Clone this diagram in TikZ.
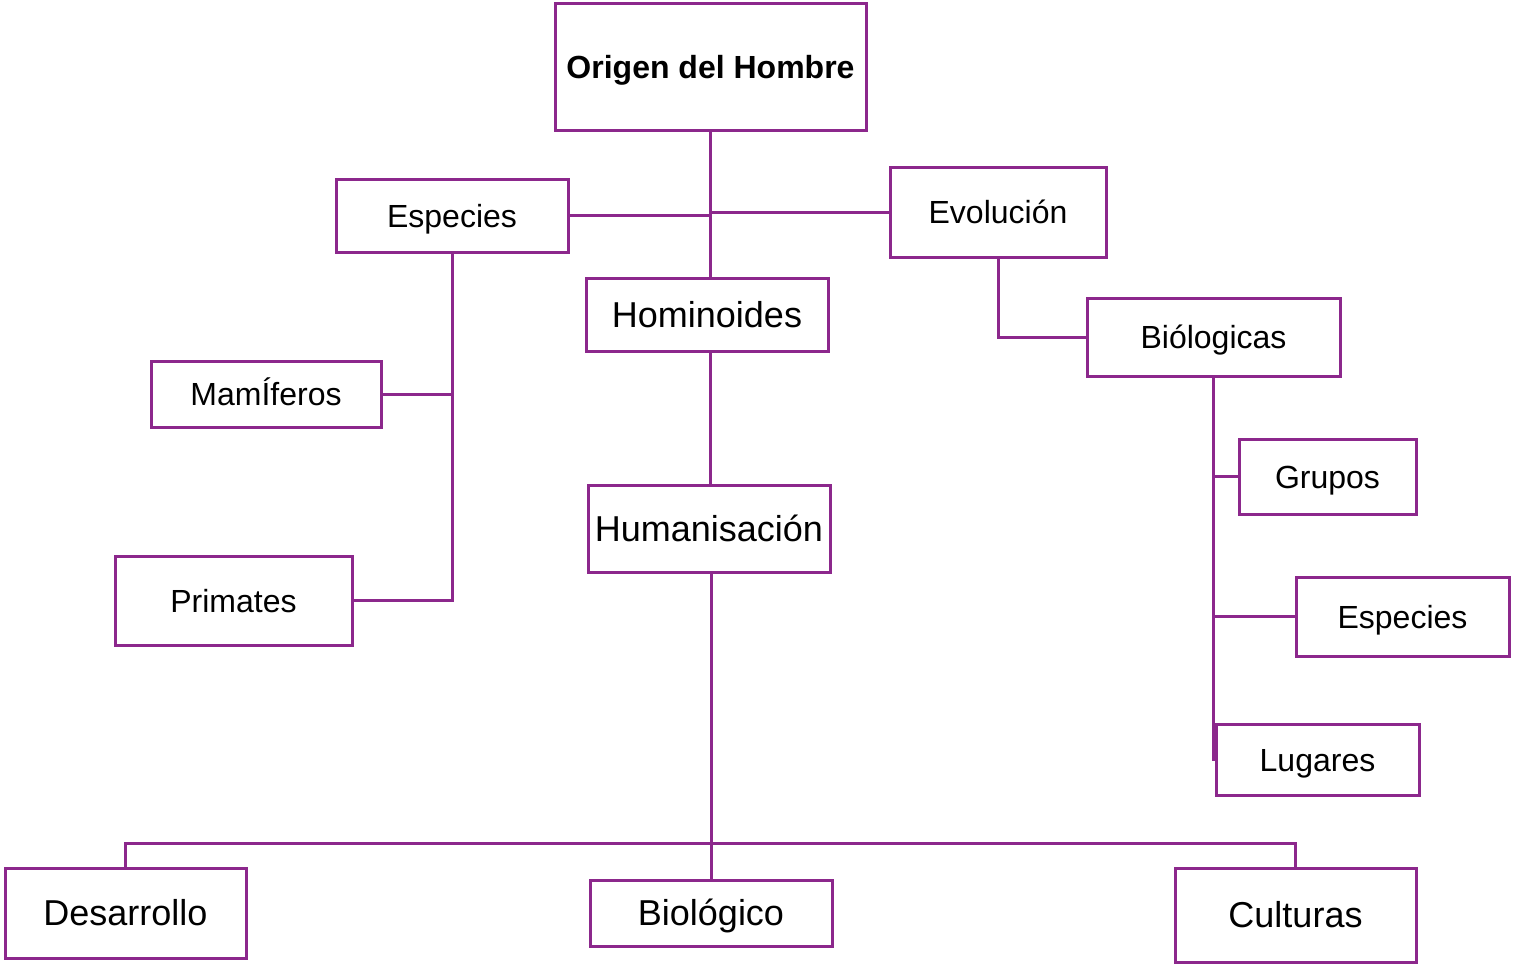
\documentclass[tikz,border=0pt]{standalone}
\usepackage{fontspec}
\setmainfont{Liberation Sans}
\usetikzlibrary{positioning}
\definecolor{purp}{RGB}{140,40,140}

\tikzset{
  box/.style={draw=purp, line width=3pt, inner sep=0pt, fill=white},
  smallbox/.style={box, font=\fontsize{32}{38}\selectfont, text height=26pt, text depth=3pt},
  bigbox/.style={box, font=\fontsize{36}{42}\selectfont, text height=29pt, text depth=3.4pt},
  link/.style={draw=purp, line width=3pt}
}

\begin{document}
\begin{tikzpicture}[x=1pt,y=-1pt]
\useasboundingbox (0,0) rectangle (1513,964);

\node[smallbox, font=\bfseries\fontsize{32}{38}\selectfont, minimum width=311, minimum height=127] (origen) at (710.5,66.5) {Origen del Hombre};

\node[smallbox, minimum width=232, minimum height=73] (especL) at (452,215.5) {Especies};
\node[smallbox, minimum width=216, minimum height=90] (evol) at (998,212) {Evolución};
\node[bigbox, minimum width=242, minimum height=73] (homin) at (707,314.5) {Hominoides};
\node[smallbox, minimum width=230, minimum height=66] (mam) at (266,394) {MamÍferos};
\node[smallbox, minimum width=237, minimum height=89] (prim) at (233.5,600.5) {Primates};
\node[bigbox, minimum width=242, minimum height=87] (humanis) at (709,528.5) {Humanisación};
\node[smallbox, minimum width=253, minimum height=78] (biols) at (1213.5,337) {Biólogicas};
\node[smallbox, minimum width=177, minimum height=75] (grupos) at (1327.5,476.5) {Grupos};
\node[smallbox, minimum width=213, minimum height=79] (especR) at (1402.5,616.5) {Especies};
\node[smallbox, minimum width=203, minimum height=71] (lug) at (1317.5,759.5) {Lugares};
\node[bigbox, minimum width=241, minimum height=90] (desarr) at (125.5,913) {Desarrollo};
\node[bigbox, minimum width=242, minimum height=66] (biolog) at (711,913) {Biológico};
\node[bigbox, minimum width=241, minimum height=94] (cult) at (1295.5,915) {Culturas};

% centre column
\draw[link] (origen.south) -- (origen.south |- homin.north);
\draw[link] (especL.east) -- (especL.east -| origen.south);
\draw[link] (evol.west) -- (evol.west -| origen.south);
\draw[link] (homin.south -| origen.south) -- (origen.south |- humanis.north);

% bottom row
\coordinate (bus) at (711,843);
\draw[link] (humanis.south -| bus) -- (bus |- biolog.north);
\draw[link] (desarr.north) |- (bus) -| (cult.north);

% left branch
\draw[link] (especL.south) |- (prim.east);
\draw[link] (mam.east) -- (mam.east -| especL.south);

% right branch
\draw[link] (evol.south) |- (biols.west);
\draw[link] (biols.south) |- (lug.west);
\foreach \n in {grupos, especR} {
    \draw[link] (\n.west) -- (\n.west -| biols.south);
}
\end{tikzpicture}
\end{document}
